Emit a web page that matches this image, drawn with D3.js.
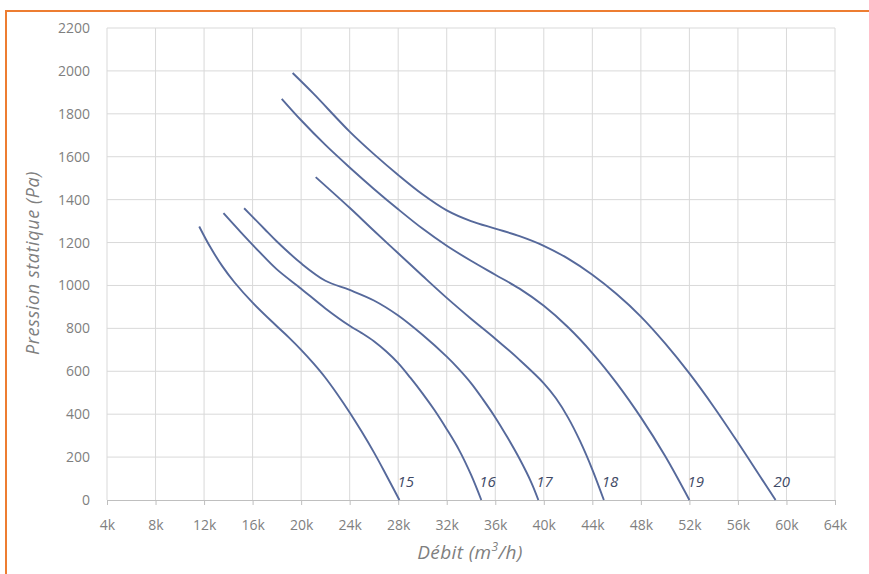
<!DOCTYPE html>
<html lang="fr">
<head>
    <meta charset="UTF-8">
    <title>Courbes débit / pression</title>
    <script type="text/javascript" src="https://cdn.jsdelivr.net/npm/d3@7"></script>
    <style>
        body { margin: 0; background: #fff; }
        svg text { font-family: "Open Sans", sans-serif; }
    </style>
</head>
<body>
<script>
    // débit en k m3/h, pression en Pa
    var curveNames = ["15", "16", "17", "18", "19", "20"];

    var flow15 = [11.6, 12.5, 13.5, 14.5, 16, 18, 19, 20, 21, 22, 23, 24, 25, 26, 27, 28.1];
    var pres15 = [1275, 1180, 1090, 1015, 920, 810, 757, 700, 638, 570, 492, 408, 318, 222, 118, 0];

    var flow16 = [13.6, 15, 16.5, 18, 20, 22, 24, 25, 26, 27, 28, 29, 30, 31, 32, 33, 34, 34.85];
    var pres16 = [1337, 1250, 1160, 1075, 985, 893, 812, 778, 740, 693, 638, 570, 497, 418, 330, 235, 118, 0];

    var flow17 = [15.3, 16, 17, 18, 20, 22, 24, 26, 28, 30, 32, 33, 34, 35, 36, 37, 38, 39, 39.55];
    var pres17 = [1360, 1320, 1262, 1205, 1103, 1022, 979, 930, 860, 770, 668, 610, 545, 468, 385, 292, 192, 78, 0];

    var flow18 = [21.2, 24, 26, 28, 30, 32, 34, 36, 38, 40, 41, 42, 43, 44, 44.95];
    var pres18 = [1505, 1362, 1255, 1150, 1045, 942, 845, 752, 653, 544, 474, 384, 273, 142, 0];

    var flow19 = [18.4, 20, 22, 24, 26, 28, 30, 32, 34, 36, 38, 40, 42, 44, 46, 48, 50, 52];
    var pres19 = [1870, 1770, 1655, 1550, 1450, 1355, 1265, 1185, 1115, 1050, 985, 905, 805, 685, 545, 385, 205, 0];

    var flow20 = [19.3, 21, 24, 26, 28, 30, 32, 34, 36, 38, 40, 42, 44, 46, 48, 50, 52, 54, 56, 58, 59.1];
    var pres20 = [1990, 1895, 1717, 1612, 1515, 1425, 1350, 1300, 1265, 1230, 1185, 1125, 1050, 960, 855, 730, 590, 435, 268, 95, 0];

    var xTicks = [4, 8, 12, 16, 20, 24, 28, 32, 36, 40, 44, 48, 52, 56, 60, 64];
    var yTicks = [0, 200, 400, 600, 800, 1000, 1200, 1400, 1600, 1800, 2000, 2200];

    var flows = [flow15, flow16, flow17, flow18, flow19, flow20];
    var pressures = [pres15, pres16, pres17, pres18, pres19, pres20];

    var w = 869, h = 574;
    var margin = {left: 107, right: 34, top: 28, bottom: 74};

    var svg = d3.select("body").append("svg")
        .attr("width", w)
        .attr("height", h);

    // cadre orange
    svg.append("rect")
        .attr("x", 6).attr("y", 11)
        .attr("width", 900).attr("height", 600)
        .attr("fill", "none")
        .attr("stroke", "#ed7d31")
        .attr("stroke-width", 2);

    var x = d3.scaleLinear().domain([4, 64]).range([margin.left, w - margin.right]);
    var y = d3.scaleLinear().domain([0, 2200]).range([h - margin.bottom, margin.top]);

    // grille
    svg.append("g").selectAll("line")
        .data(xTicks)
        .enter().append("line")
        .attr("x1", function (d) { return x(d); })
        .attr("x2", function (d) { return x(d); })
        .attr("y1", y(0)).attr("y2", y(2200))
        .attr("stroke", "#d9d9d9");
    svg.append("g").selectAll("line")
        .data(yTicks.slice(1))
        .enter().append("line")
        .attr("x1", x(4)).attr("x2", x(64))
        .attr("y1", function (d) { return y(d); })
        .attr("y2", function (d) { return y(d); })
        .attr("stroke", "#d9d9d9");

    // axe x
    var xAxis = svg.append("g")
        .attr("transform", "translate(0," + y(0) + ")")
        .call(d3.axisBottom(x).tickValues(xTicks)
            .tickFormat(function (d) { return d + "k"; })
            .tickSize(5).tickPadding(15));
    xAxis.select(".domain").attr("stroke", "#bfbfbf");
    xAxis.selectAll(".tick line").attr("stroke", "#bfbfbf");
    xAxis.selectAll("text").attr("fill", "#7f7f7f").attr("font-size", "14px")
        .attr("font-family", "Open Sans, sans-serif");

    // axe y
    var yAxis = svg.append("g")
        .attr("transform", "translate(" + x(4) + ",0)")
        .call(d3.axisLeft(y).tickValues(yTicks).tickFormat(d3.format("d"))
            .tickSize(0).tickPadding(17));
    yAxis.select(".domain").remove();
    yAxis.selectAll("text").attr("fill", "#7f7f7f").attr("font-size", "14px")
        .attr("font-family", "Open Sans, sans-serif");

    // courbes
    var line = d3.line()
        .x(function (d) { return x(d[0]); })
        .y(function (d) { return y(d[1]); })
        .curve(d3.curveCatmullRom.alpha(0.5));

    curveNames.forEach(function (name, i) {
        var pts = flows[i].map(function (f, j) { return [f, pressures[i][j]]; });
        svg.append("path")
            .datum(pts)
            .attr("d", line)
            .attr("fill", "none")
            .attr("stroke", "#56699b")
            .attr("stroke-width", 1.9);
        var last = pts[pts.length - 1];
        svg.append("text")
            .attr("x", x(last[0]) - 2)
            .attr("y", y(0) - 13)
            .attr("font-size", "15px")
            .attr("font-style", "italic")
            .attr("fill", "#3f4a66")
            .text(name);
    });

    // titres des axes
    var xt = svg.append("text")
        .attr("x", 470).attr("y", 559)
        .attr("text-anchor", "middle")
        .attr("font-size", "19px")
        .attr("letter-spacing", "0.4px")
        .attr("font-style", "italic")
        .attr("fill", "#7f7f7f")
        .text("Débit (m");
    xt.append("tspan").attr("baseline-shift", "super").attr("font-size", "12px").text("3");
    xt.append("tspan").text("/h)");

    svg.append("text")
        .attr("transform", "translate(39," + 263 + ") rotate(-90)")
        .attr("text-anchor", "middle")
        .attr("font-size", "18px")
        .attr("letter-spacing", "0.6px")
        .attr("font-style", "italic")
        .attr("fill", "#7f7f7f")
        .text("Pression statique (Pa)");
</script>
</body>
</html>
